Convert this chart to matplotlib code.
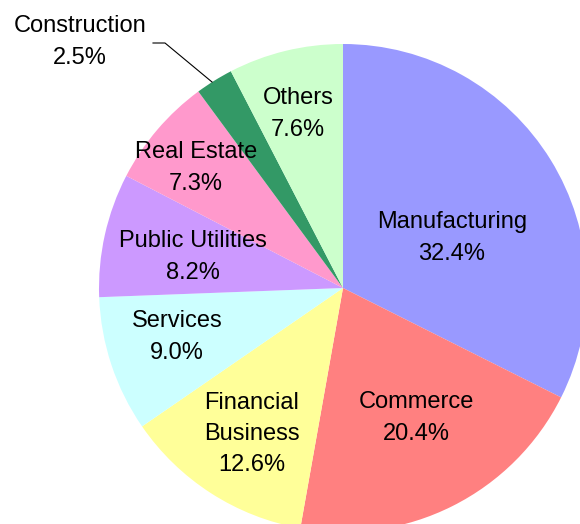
import matplotlib
matplotlib.use("Agg")
import matplotlib.pyplot as plt

categories = ["Manufacturing", "Commerce", "Financial\nBusiness", "Services",
              "Public Utilities", "Real Estate", "Construction", "Others"]
shares = [32.4, 20.4, 12.6, 9.0, 8.2, 7.3, 2.5, 7.6]
colors = ["#9999FF", "#FF8080", "#FFFF99", "#CCFFFF",
          "#CC99FF", "#FF99CC", "#339966", "#CCFFCC"]

# label centre positions in pixel space (x from left, y from top)
label_px = [(452, 238), (416, 418), (252, 434), (177, 337),
            (193, 257), (196, 168), (80, 42), (298, 114)]

W, H = 580, 524
fig = plt.figure(figsize=(W / 100, H / 100), dpi=100)
ax = fig.add_axes([0, 0, 1, 1])
cx, cy, R = 343, 288, 244

wedges, _ = ax.pie(shares, colors=colors, startangle=90, counterclock=False,
                   radius=R, center=(cx, H - cy), frame=False,
                   wedgeprops=dict(linewidth=0))
ax.set_xlim(0, W)
ax.set_ylim(0, H)
ax.set_aspect("equal")
ax.axis("off")

for name, val, (px, py) in zip(categories, shares, label_px):
    ax.text(px, H - py, f"{name}\n{val:.1f}%", ha="center", va="center",
            fontsize=17, family="Liberation Sans", linespacing=1.53,
            color="black")

# leader line for Construction
ax.plot([153, 165, 212], [H - 43, H - 43, H - 82], color="black", lw=0.8)

fig.savefig("out.png", dpi=100)
